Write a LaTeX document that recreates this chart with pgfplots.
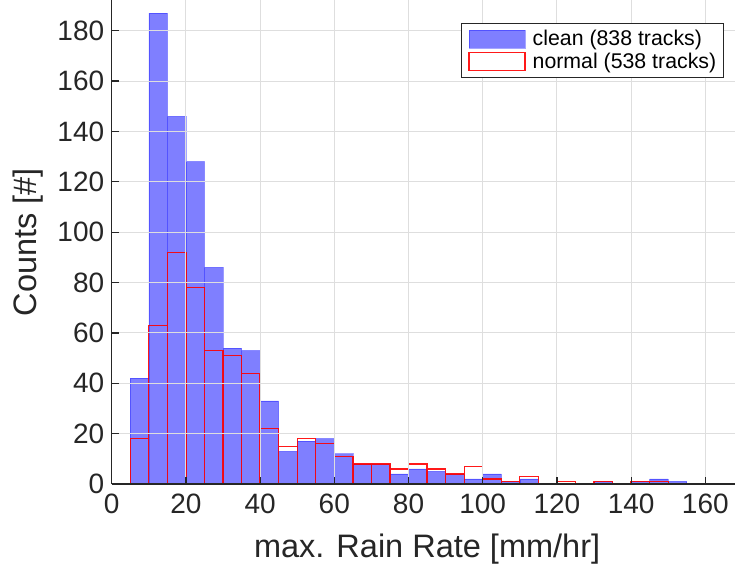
\documentclass[border=0pt]{standalone}
\usepackage{fontspec}
\setmainfont{Liberation Sans}
\usepackage{pgfplots}
\pgfplotsset{compat=1.18}
\definecolor{axgray}{RGB}{38,38,38}
\definecolor{gridgray}{RGB}{222,222,222}
\begin{document}
\begin{tikzpicture}
\begin{axis}[
  at={(0,0)}, anchor=south west,
  scale only axis, width=623.3pt, height=484pt,
  xmin=0, xmax=168, ymin=0, ymax=192.2,
  axis x line*=bottom, axis y line*=left,
  xtick={0,20,...,160}, ytick={0,20,...,180},
  tick align=inside,
  major tick length=7pt,
  grid=major, grid style={gridgray, line width=1pt},
  axis line style={axgray, line width=1.2pt},
  tick style={axgray, line width=1.2pt},
  ticklabel style={font=\fontsize{28}{28}\selectfont, text=axgray},
  xticklabel style={yshift=-6pt},
  yticklabel style={xshift=-4pt},
  /pgf/number format/assume math mode=true,
  xlabel={max. Rain Rate [mm/hr]}, ylabel={Counts [\#]},
  label style={font=\fontsize{32.5}{32.5}\selectfont, text=axgray},
  xlabel style={at={(axis description cs:0.506,0)}, anchor=base, yshift=-73pt},
  ylabel style={at={(axis description cs:-0.12,0.5)}, anchor=base, rotate=0},
  axis on top,
  legend style={draw=axgray, line width=1.2pt, fill=white,
    at={(axis description cs:0.982,0.9525)}, anchor=north east,
    font=\fontsize{21.3}{21.3}\selectfont, text=black,
    nodes={inner sep=0pt}, row sep=4pt,
    inner xsep=7pt, inner ysep=6pt},
  legend cell align=left,
  legend image code/.code={\draw[#1] (5pt,-9pt) rectangle (61pt,9pt);
     \path (68pt,0pt);},
]
\addplot[ybar interval, fill=blue, fill opacity=0.5, draw=blue, draw opacity=0.35, line width=0.6pt]
coordinates {
(5,42) (10,187) (15,146) (20,128) (25,86) (30,54) (35,53) (40,33) (45,13)
(50,17) (55,18) (60,12) (65,8) (70,8) (75,4) (80,6) (85,5) (90,4) (95,2)
(100,4) (105,1) (110,2) (115,0) (120,0) (125,0) (130,1) (135,0) (140,1)
(145,2) (150,1) (155,0) (160,0)
};
\addlegendentry{clean (838 tracks)}
\addplot[ybar interval, fill=none, draw=red, draw opacity=0.9, line width=1.3pt]
coordinates {
(5,18) (10,63) (15,92) (20,78) (25,53) (30,51) (35,44) (40,22) (45,15)
(50,18) (55,16) (60,11) (65,8) (70,8) (75,6) (80,8) (85,6) (90,4) (95,7)
(100,2) (105,1) (110,3) (115,0) (120,1) (125,0) (130,1) (135,0) (140,1)
(145,1) (150,0) (155,0) (160,0) (165,0) (170,0) (175,0)
};
\addlegendentry{normal (538 tracks)}
\end{axis}
\pgfresetboundingbox
\path[use as bounding box] (-111.7pt,-81pt) rectangle (623.3pt,484pt);
\end{tikzpicture}
\end{document}
